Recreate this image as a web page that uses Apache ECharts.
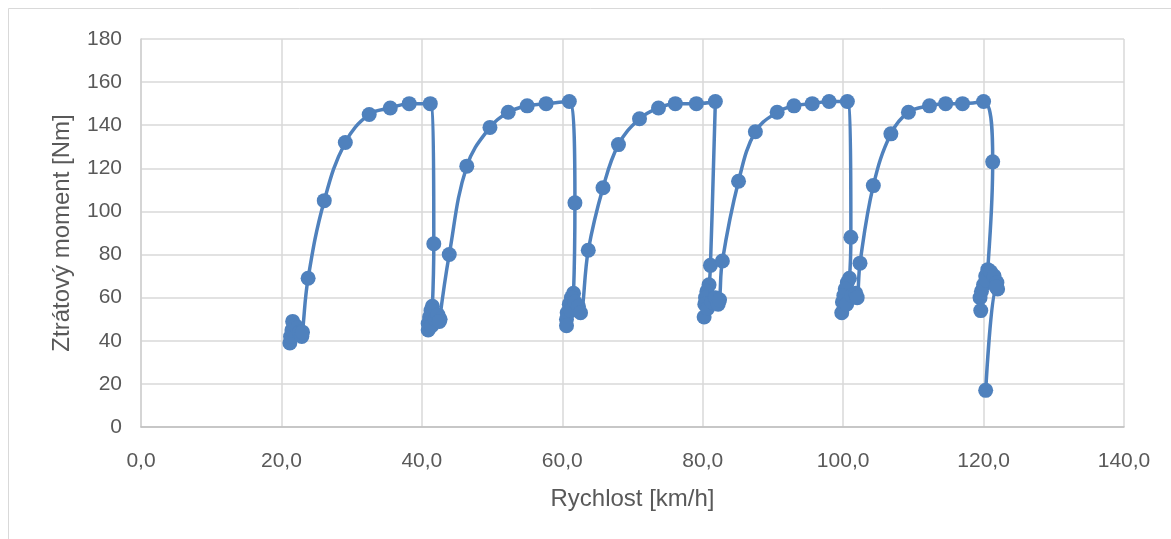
<!DOCTYPE html>
<html>
<head>
<meta charset="utf-8">
<script src="https://cdn.jsdelivr.net/npm/echarts@6/dist/echarts.min.js"></script>
<style>
  html, body { margin: 0; padding: 0; background: #fff; }
  #chart { width: 1171px; height: 539px; }
</style>
</head>
<body>
<div id="chart"></div>
<script>
const speed = [
  21.2, 21.3, 21.5, 21.6, 22.0, 22.3, 22.6, 22.9, 23.0,
  23.8, 26.1, 29.1, 32.5, 35.5, 38.2, 41.2, 41.7,
  41.5, 41.3, 41.1, 40.9, 40.9, 41.4, 41.9, 42.3, 42.6, 42.5,
  43.9, 46.4, 49.7, 52.3, 55.0, 57.7, 61.0, 61.8,
  61.6, 61.3, 61.0, 60.7, 60.6, 60.6, 61.2, 61.8, 62.3, 62.6,
  63.7, 65.8, 68.0, 71.0, 73.7, 76.1, 79.1, 81.8, 81.1,
  80.9, 80.6, 80.4, 80.3, 80.2, 80.7, 81.3, 81.8, 82.2, 82.4,
  82.8, 85.1, 87.5, 90.6, 93.0, 95.6, 98.0, 100.6, 101.1,
  100.9, 100.6, 100.3, 100.1, 99.9, 99.8, 100.5, 101.2, 101.8, 102.0,
  102.4, 104.3, 106.8, 109.3, 112.3, 114.6, 117.0, 120.0, 121.3,
  120.6, 120.3, 120.0, 119.7, 119.5, 119.6, 120.4, 121.0, 121.5, 121.9, 122.0, 121.8,
  120.3
];
const moment = [
  39, 42, 45, 49, 47, 46, 44, 42, 44,
  69, 105, 132, 145, 148, 150, 150, 85,
  56, 54, 51, 48, 45, 47, 50, 52, 50, 49,
  80, 121, 139, 146, 149, 150, 151, 104,
  62, 60, 57, 53, 50, 47, 54, 58, 56, 53,
  82, 111, 131, 143, 148, 150, 150, 151, 75,
  66, 63, 60, 57, 51, 55, 58, 60, 57, 59,
  77, 114, 137, 146, 149, 150, 151, 151, 88,
  69, 67, 64, 61, 58, 53, 57, 61, 62, 60,
  76, 112, 136, 146, 149, 150, 150, 151, 123,
  73, 70, 66, 63, 60, 54, 68, 72, 70, 67, 64, 65,
  17
];

const points = speed.map((v, i) => [v, moment[i]]);

const textColor = "#595959";
const font = "'Liberation Sans', Arial, sans-serif";

const chart = echarts.init(document.getElementById("chart"));

chart.setOption({
  animation: false,
  backgroundColor: "#fff",
  graphic: [
    {
      // outer chart area border (only left and top visible in the picture)
      type: "rect",
      shape: { x: 8.5, y: 8.5, width: 1300, height: 700 },
      style: { fill: null, stroke: "#d9d9d9", lineWidth: 1 },
      silent: true,
      z: -1,
    },
  ],
  grid: { left: 141, right: 47, top: 39, bottom: 112 },
  xAxis: {
    type: "value",
    min: 0,
    max: 140,
    interval: 20,
    name: "Rychlost [km/h]",
    nameLocation: "middle",
    nameGap: 60,
    nameTextStyle: { color: textColor, fontSize: 24, fontFamily: font },
    axisLine: { show: true, lineStyle: { color: "#bfbfbf", width: 1.5 } },
    axisTick: { show: false },
    axisLabel: {
      color: textColor,
      fontSize: 21,
      fontFamily: font,
      margin: 24,
      formatter: (v) => v.toFixed(1).replace(".", ","),
    },
    splitLine: { show: true, lineStyle: { color: "#d9d9d9", width: 1.5 } },
  },
  yAxis: {
    type: "value",
    min: 0,
    max: 180,
    interval: 20,
    name: "Ztrátový moment [Nm]",
    nameLocation: "middle",
    nameGap: 67,
    nameTextStyle: { color: textColor, fontSize: 24, fontFamily: font },
    axisLine: { show: true, lineStyle: { color: "#d0d0d0", width: 1.5 } },
    axisTick: { show: false },
    axisLabel: { color: textColor, fontSize: 21, fontFamily: font, margin: 19 },
    splitLine: { show: true, lineStyle: { color: "#d9d9d9", width: 1.5 } },
  },
  series: [
    {
      type: "line",
      data: points,
      smooth: 0.4,
      symbol: "circle",
      symbolSize: 15,
      itemStyle: { color: "#4f81bd" },
      lineStyle: { color: "#4f81bd", width: 3.5 },
    },
  ],
});
</script>
</body>
</html>
